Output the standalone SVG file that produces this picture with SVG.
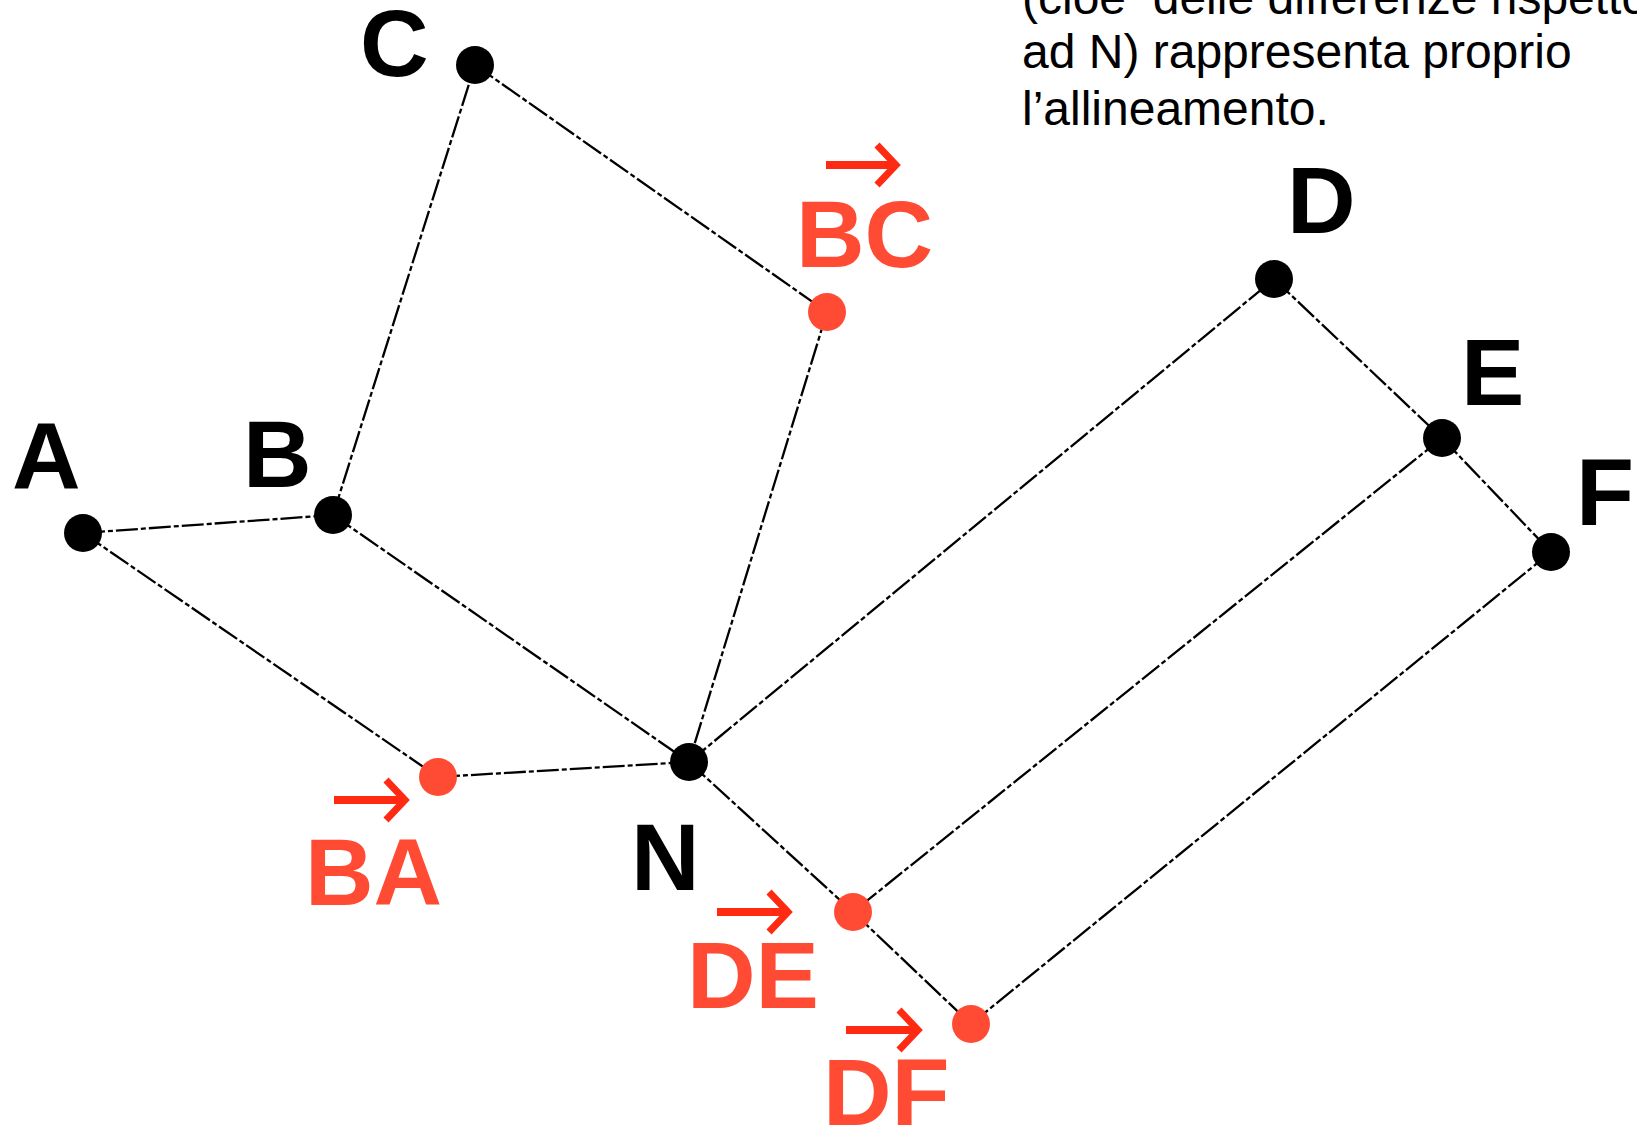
<svg xmlns="http://www.w3.org/2000/svg" width="1637" height="1125" viewBox="0 0 1637 1125">
<style>
.lbl{font-family:"Liberation Sans",Arial,sans-serif;font-weight:bold;font-size:95px;fill:#000}
.rlbl{font-family:"Liberation Sans",Arial,sans-serif;font-weight:bold;font-size:95px;fill:#FF4B33}
.note{font-family:"Liberation Sans",Arial,sans-serif;font-size:48px;fill:#000}
.blk{fill:#000}
.red{fill:#FF4B33}
.edge{stroke:#000;stroke-width:2.3;fill:none;stroke-dasharray:22 3 5 3}
.vec{stroke:#FF2A12;stroke-width:8;fill:none;stroke-linecap:butt}
.vh{stroke:#FF2A12;stroke-width:7;fill:none;stroke-linejoin:miter}
</style>
<rect width="1637" height="1125" fill="#fff"/>
<g id="note">
<text class="note" x="1022" y="14" xml:space="preserve">(cioè  delle differenze rispetto</text>
<text class="note" x="1022" y="68">ad N) rappresenta proprio</text>
<text class="note" x="1022" y="125">l’allineamento.</text>
</g>
<g id="connectors">
<line class="edge" x1="83" y1="533" x2="333" y2="515"/>
<line class="edge" x1="83" y1="533" x2="438" y2="777"/>
<line class="edge" x1="333" y1="515" x2="475" y2="65"/>
<line class="edge" x1="333" y1="515" x2="689" y2="762"/>
<line class="edge" x1="475" y1="65" x2="827" y2="312"/>
<line class="edge" x1="827" y1="312" x2="689" y2="762"/>
<line class="edge" x1="438" y1="777" x2="689" y2="762"/>
<line class="edge" x1="689" y1="762" x2="1274" y2="279"/>
<line class="edge" x1="689" y1="762" x2="853" y2="912"/>
<line class="edge" x1="853" y1="912" x2="971" y2="1024"/>
<line class="edge" x1="1274" y1="279" x2="1442" y2="438"/>
<line class="edge" x1="1442" y1="438" x2="1551" y2="552"/>
<line class="edge" x1="1442" y1="438" x2="853" y2="912"/>
<line class="edge" x1="1551" y1="552" x2="971" y2="1024"/>
</g>
<g id="node-A"><circle class="blk" cx="83" cy="533" r="19"/><text class="lbl" x="12" y="489">A</text></g>
<g id="node-B"><circle class="blk" cx="333" cy="515" r="19"/><text class="lbl" x="243" y="487">B</text></g>
<g id="node-C"><circle class="blk" cx="475" cy="65" r="19"/><text class="lbl" x="360" y="76">C</text></g>
<g id="node-D"><circle class="blk" cx="1274" cy="279" r="19"/><text class="lbl" x="1287" y="233">D</text></g>
<g id="node-E"><circle class="blk" cx="1442" cy="438" r="19"/><text class="lbl" x="1461" y="405">E</text></g>
<g id="node-F"><circle class="blk" cx="1551" cy="552" r="19"/><text class="lbl" x="1576" y="525">F</text></g>
<g id="node-N"><circle class="blk" cx="689" cy="762" r="19"/><text class="lbl" x="631" y="890">N</text></g>
<g id="node-BC"><circle class="red" cx="827" cy="312" r="19"/>
<line class="vec" x1="826" y1="165" x2="895" y2="165"/><polyline class="vh" points="877,145 896,165 877,185"/>
<text class="rlbl" x="796" y="267">BC</text></g>
<g id="node-BA"><circle class="red" cx="438" cy="777" r="19"/>
<line class="vec" x1="334" y1="800" x2="404" y2="800"/><polyline class="vh" points="386,780 405,800 386,820"/>
<text class="rlbl" x="305" y="905">BA</text></g>
<g id="node-DE"><circle class="red" cx="853" cy="912" r="19"/>
<line class="vec" x1="717" y1="912" x2="787" y2="912"/><polyline class="vh" points="769,892 788,912 769,932"/>
<text class="rlbl" x="687" y="1008">DE</text></g>
<g id="node-DF"><circle class="red" cx="971" cy="1024" r="19"/>
<line class="vec" x1="846" y1="1030" x2="917" y2="1030"/><polyline class="vh" points="899,1010 918,1030 899,1050"/>
<text class="rlbl" x="823" y="1125">DF</text></g>
</svg>
